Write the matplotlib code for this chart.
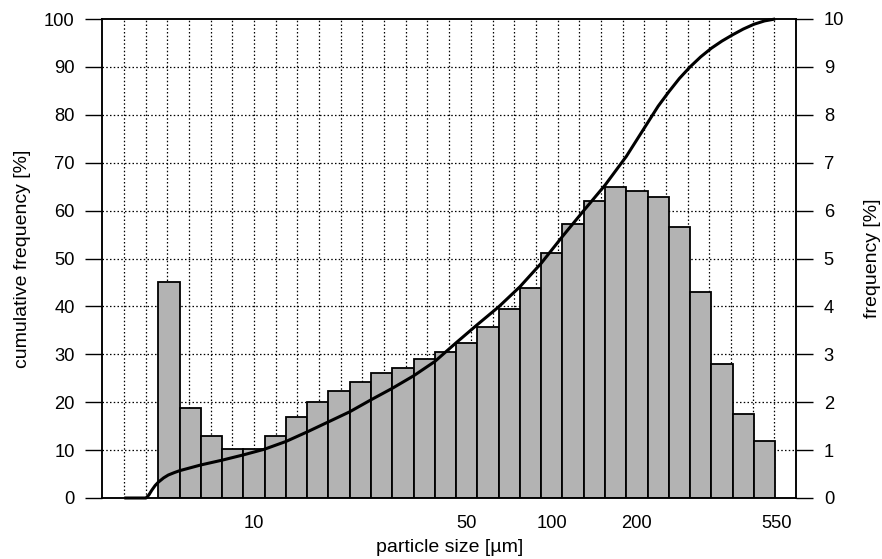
import matplotlib
matplotlib.use("Agg")
import matplotlib.pyplot as plt
import numpy as np

plt.rcParams['font.family'] = ['Liberation Sans', 'DejaVu Sans']

# bar heights, frequency [%] (one per size class, log-spaced classes)
freq = [4.51, 1.88, 1.30, 1.02, 1.02, 1.30, 1.70, 2.00, 2.23, 2.42,
        2.60, 2.71, 2.90, 3.05, 3.24, 3.56, 3.95, 4.39, 5.11, 5.71,
        6.20, 6.49, 6.41, 6.28, 5.66, 4.31, 2.80, 1.75, 1.20]

# cumulative curve: position in class units, value [%]
cum_x = [-1.60, -0.58, -0.45, -0.31, -0.15, 0.0, 0.25, 0.47, 0.75, 1.0,
         1.5, 2.0, 3.0, 4.0, 5.0, 6.0, 7.0, 8.0, 9.0, 10.0,
         11.0, 12.0, 13.0, 14.0, 15.0, 16.0, 17.0, 18.0, 19.0, 20.0,
         21.0, 22.0, 22.5, 23.0, 23.5, 24.0, 24.5, 25.0, 25.5, 26.0,
         26.5, 27.0, 27.5, 28.0, 28.5, 29.0]
cum_y = [0.0, 0.0, 0.6, 1.6, 2.6, 3.3, 4.2, 4.8, 5.3, 5.7,
         6.3, 6.9, 7.9, 9.0, 10.2, 11.8, 13.8, 15.9, 18.0, 20.5,
         22.9, 25.5, 28.5, 32.4, 36.2, 39.9, 44.1, 49.0, 54.6, 60.0,
         65.3, 71.3, 74.8, 78.3, 81.8, 84.8, 87.6, 90.0, 92.1, 93.9,
         95.4, 96.7, 97.9, 98.9, 99.6, 100.0]

# x tick labels (particle size in µm) and their positions in class units
tick_pos = [4.5, 14.5, 18.5, 22.5, 29.07]
tick_lab = ['10', '50', '100', '200', '550']

x_lo, x_hi = -2.633, 29.98

fig = plt.figure(figsize=(8.82, 5.59), dpi=100)
ax = fig.add_axes([102.3 / 882, 1 - 498 / 559, (796 - 102.3) / 882, (498 - 19) / 559])
ax2 = ax.twinx()

dot = (0, (1.2, 1.8))
# grid on the right (frequency) axis, below the bars
gx = np.linspace(x_lo, x_hi, 33)[1:-1]
ax2.vlines(gx, 0, 10, colors='black', linestyles=dot, linewidth=0.9, zorder=0)
ax2.hlines(np.arange(1, 10), x_lo, x_hi, colors='black', linestyles=dot, linewidth=0.9, zorder=0)

edges = np.arange(len(freq))
ax2.bar(edges, freq, width=1.0, align='edge', color='#b3b3b3',
        edgecolor='black', linewidth=1.3, zorder=3)
ax2.set_ylim(0, 10)
ax2.set_yticks(np.arange(0, 11, 1))

# cumulative curve on the left axis, drawn on top
ax.set_zorder(ax2.get_zorder() + 1)
ax.patch.set_visible(False)
ax.plot(cum_x, cum_y, color='black', linewidth=2.2, solid_capstyle='butt',
        solid_joinstyle='round', clip_on=False)
ax.set_ylim(0, 100)
ax.set_yticks(np.arange(0, 101, 10))
ax.set_xlim(x_lo, x_hi)
ax.set_xticks(tick_pos)
ax.set_xticklabels(tick_lab)

fs = 13.2
fl = 14.0
ax.tick_params(axis='x', length=0, pad=12, labelsize=fs)
ax.tick_params(axis='y', direction='out', length=12, width=1, pad=8, labelsize=fs)
ax2.tick_params(axis='y', direction='out', length=12, width=1, pad=8, labelsize=fs)

for a in (ax, ax2):
    for s in a.spines.values():
        s.set_linewidth(1.1)
        s.set_color('black')

ax.set_xlabel('particle size [µm]', fontsize=fl, labelpad=5)
ax.set_ylabel('cumulative frequency [%]', fontsize=fl, labelpad=9)
ax2.set_ylabel('frequency [%]', fontsize=fl, labelpad=14)

fig.savefig('out.png', dpi=100)
